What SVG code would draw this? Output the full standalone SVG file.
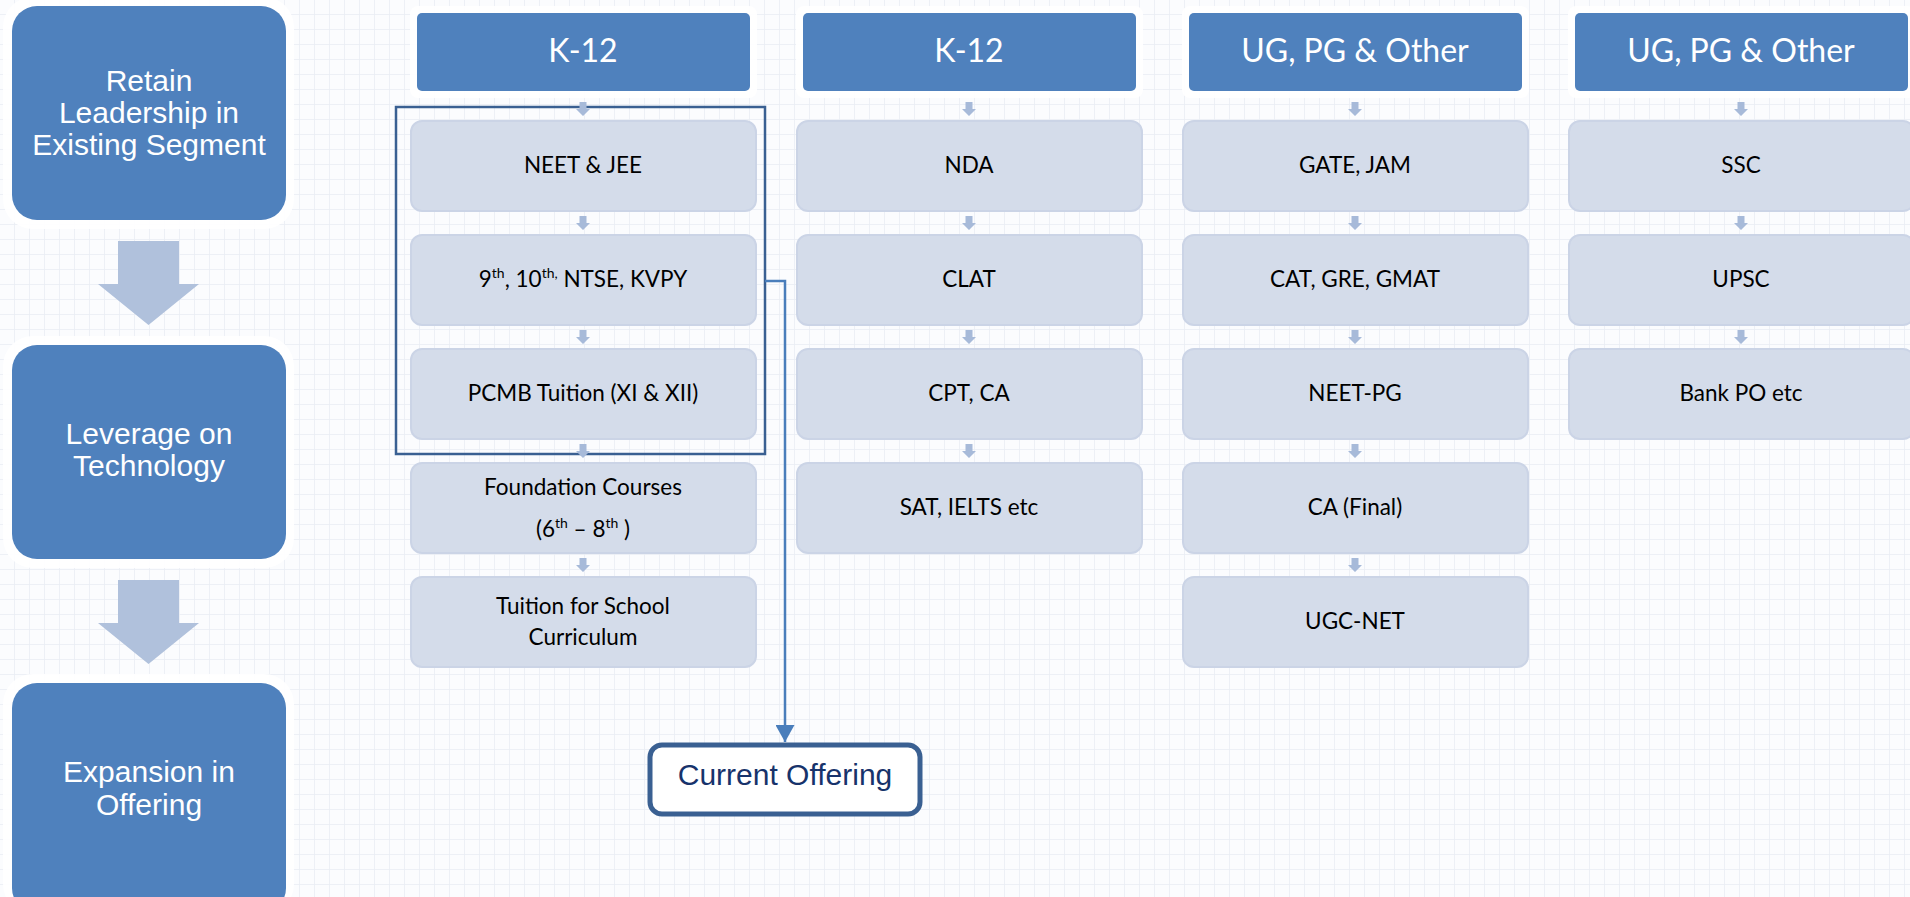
<svg xmlns="http://www.w3.org/2000/svg" width="1910" height="897" viewBox="0 0 1910 897">
<defs>
<pattern id="grid" width="15" height="15" patternUnits="userSpaceOnUse">
<path d="M15 0 V15 M0 15 H15" fill="none" stroke="#e9edf4" stroke-width="1.5"/>
</pattern>
<path id="sa" d="M-3.5 0 H3.5 V7 H7 L0 14 L-7 7 H-3.5 Z" fill="#a7bad9"/>
<path id="ba" d="M-30 0 H31 V43 H51 L0.5 84 L-50 43 H-30 Z" fill="#b0c1dc"/>
<marker id="ah" viewBox="0 0 17 19" refX="17" refY="9.5" markerWidth="17" markerHeight="19" markerUnits="userSpaceOnUse" orient="auto">
<path d="M0 0 L17 9.5 L0 19 Z" fill="#4a7ebb"/>
</marker>
</defs>
<style>
.halo{fill:#ffffff;opacity:0.92}
.big{fill:#4f81bd}
.bigt{font-family:"Liberation Sans",Arial,sans-serif;font-size:30px;fill:#ffffff;text-anchor:middle}
.hd{fill:#4f81bd}
.hdt{font-family:Lato,"Open Sans",sans-serif;font-size:32px;fill:#ffffff;text-anchor:middle}
.nd{fill:#d4dcea;stroke:#cbd4e6;stroke-width:2}
.ndt{font-family:Lato,"Open Sans",sans-serif;font-size:22.5px;fill:#000000;text-anchor:middle}
.sup{font-size:14px}
</style>
<rect width="1910" height="897" fill="#fbfcfe"/>
<rect width="1910" height="897" fill="url(#grid)"/>

<g id="left-steps">
<g id="step1">
<rect class="halo" x="3" y="-3" width="291" height="232" rx="30"/>
<rect class="big" x="12" y="6" width="274" height="214" rx="25"/>
<text class="bigt" x="149" y="91">Retain</text>
<text class="bigt" x="149" y="123">Leadership in</text>
<text class="bigt" x="149" y="155">Existing Segment</text>
</g>
<g id="step2">
<rect class="halo" x="3" y="336" width="291" height="232" rx="30"/>
<rect class="big" x="12" y="345" width="274" height="214" rx="25"/>
<text class="bigt" x="149" y="444">Leverage on</text>
<text class="bigt" x="149" y="476">Technology</text>
</g>
<g id="step3">
<rect class="halo" x="3" y="674" width="291" height="240" rx="30"/>
<rect class="big" x="12" y="683" width="274" height="230" rx="25"/>
<text class="bigt" x="149" y="782">Expansion in</text>
<text class="bigt" x="149" y="815">Offering</text>
</g>
<use href="#ba" x="148" y="241"/>
<use href="#ba" x="148" y="580"/>
</g>

<g id="headers">
<g id="h1"><rect class="halo" x="410" y="6" width="347" height="92" rx="8"/><rect class="hd" x="417" y="13" width="333" height="78" rx="5"/><text class="hdt" x="583" y="62">K-12</text></g>
<g id="h2"><rect class="halo" x="796" y="6" width="347" height="92" rx="8"/><rect class="hd" x="803" y="13" width="333" height="78" rx="5"/><text class="hdt" x="969" y="62">K-12</text></g>
<g id="h3"><rect class="halo" x="1182" y="6" width="347" height="92" rx="8"/><rect class="hd" x="1189" y="13" width="333" height="78" rx="5"/><text class="hdt" x="1355" y="62">UG, PG &amp; Other</text></g>
<g id="h4"><rect class="halo" x="1568" y="6" width="347" height="92" rx="8"/><rect class="hd" x="1575" y="13" width="333" height="78" rx="5"/><text class="hdt" x="1741" y="62">UG, PG &amp; Other</text></g>
</g>

<g id="col1">
<g id="n-neet"><rect class="nd" x="411" y="121" width="345" height="90" rx="11"/><text class="ndt" x="583" y="173">NEET &amp; JEE</text></g>
<g id="n-9th"><rect class="nd" x="411" y="235" width="345" height="90" rx="11"/><text class="ndt" x="583" y="287">9<tspan class="sup" dy="-9">th</tspan><tspan dy="9">, 10</tspan><tspan class="sup" dy="-9">th,</tspan><tspan dy="9"> NTSE, KVPY</tspan></text></g>
<g id="n-pcmb"><rect class="nd" x="411" y="349" width="345" height="90" rx="11"/><text class="ndt" x="583" y="401">PCMB Tuition (XI &amp; XII)</text></g>
<g id="n-found"><rect class="nd" x="411" y="463" width="345" height="90" rx="11"/><text class="ndt" x="583" y="495">Foundation Courses</text><text class="ndt" x="583" y="537">(6<tspan class="sup" dy="-9">th</tspan><tspan dy="9"> – 8</tspan><tspan class="sup" dy="-9">th</tspan><tspan dy="9"> )</tspan></text></g>
<g id="n-tuition"><rect class="nd" x="411" y="577" width="345" height="90" rx="11"/><text class="ndt" x="583" y="614">Tuition for School</text><text class="ndt" x="583" y="645">Curriculum</text></g>
</g>

<g id="col2">
<g id="n-nda"><rect class="nd" x="797" y="121" width="345" height="90" rx="11"/><text class="ndt" x="969" y="173">NDA</text></g>
<g id="n-clat"><rect class="nd" x="797" y="235" width="345" height="90" rx="11"/><text class="ndt" x="969" y="287">CLAT</text></g>
<g id="n-cpt"><rect class="nd" x="797" y="349" width="345" height="90" rx="11"/><text class="ndt" x="969" y="401">CPT, CA</text></g>
<g id="n-sat"><rect class="nd" x="797" y="463" width="345" height="90" rx="11"/><text class="ndt" x="969" y="515">SAT, IELTS etc</text></g>
</g>

<g id="col3">
<g id="n-gate"><rect class="nd" x="1183" y="121" width="345" height="90" rx="11"/><text class="ndt" x="1355" y="173">GATE, JAM</text></g>
<g id="n-cat"><rect class="nd" x="1183" y="235" width="345" height="90" rx="11"/><text class="ndt" x="1355" y="287">CAT, GRE, GMAT</text></g>
<g id="n-neetpg"><rect class="nd" x="1183" y="349" width="345" height="90" rx="11"/><text class="ndt" x="1355" y="401">NEET-PG</text></g>
<g id="n-cafinal"><rect class="nd" x="1183" y="463" width="345" height="90" rx="11"/><text class="ndt" x="1355" y="515">CA (Final)</text></g>
<g id="n-ugc"><rect class="nd" x="1183" y="577" width="345" height="90" rx="11"/><text class="ndt" x="1355" y="629">UGC-NET</text></g>
</g>

<g id="col4">
<g id="n-ssc"><rect class="nd" x="1569" y="121" width="345" height="90" rx="11"/><text class="ndt" x="1741" y="173">SSC</text></g>
<g id="n-upsc"><rect class="nd" x="1569" y="235" width="345" height="90" rx="11"/><text class="ndt" x="1741" y="287">UPSC</text></g>
<g id="n-bank"><rect class="nd" x="1569" y="349" width="345" height="90" rx="11"/><text class="ndt" x="1741" y="401">Bank PO etc</text></g>
</g>

<g id="current-offering">
<rect x="396" y="107" width="369" height="347" fill="none" stroke="#3a6092" stroke-width="2.5"/>
<rect x="650" y="745" width="270" height="69" rx="12" fill="#ffffff" stroke="#3a6092" stroke-width="5"/>
<text x="785" y="785" font-family="'Liberation Sans',Arial,sans-serif" font-size="30" fill="#17336b" text-anchor="middle">Current Offering</text>
</g>

<g id="connectors">
<use href="#sa" x="583" y="102"/><use href="#sa" x="583" y="216"/><use href="#sa" x="583" y="330"/><use href="#sa" x="583" y="444"/><use href="#sa" x="583" y="558"/>
<use href="#sa" x="969" y="102"/><use href="#sa" x="969" y="216"/><use href="#sa" x="969" y="330"/><use href="#sa" x="969" y="444"/>
<use href="#sa" x="1355" y="102"/><use href="#sa" x="1355" y="216"/><use href="#sa" x="1355" y="330"/><use href="#sa" x="1355" y="444"/><use href="#sa" x="1355" y="558"/>
<use href="#sa" x="1741" y="102"/><use href="#sa" x="1741" y="216"/><use href="#sa" x="1741" y="330"/>
<path d="M765 281 H785 V742" fill="none" stroke="#4a7ebb" stroke-width="2.5" marker-end="url(#ah)"/>
</g>
</svg>
